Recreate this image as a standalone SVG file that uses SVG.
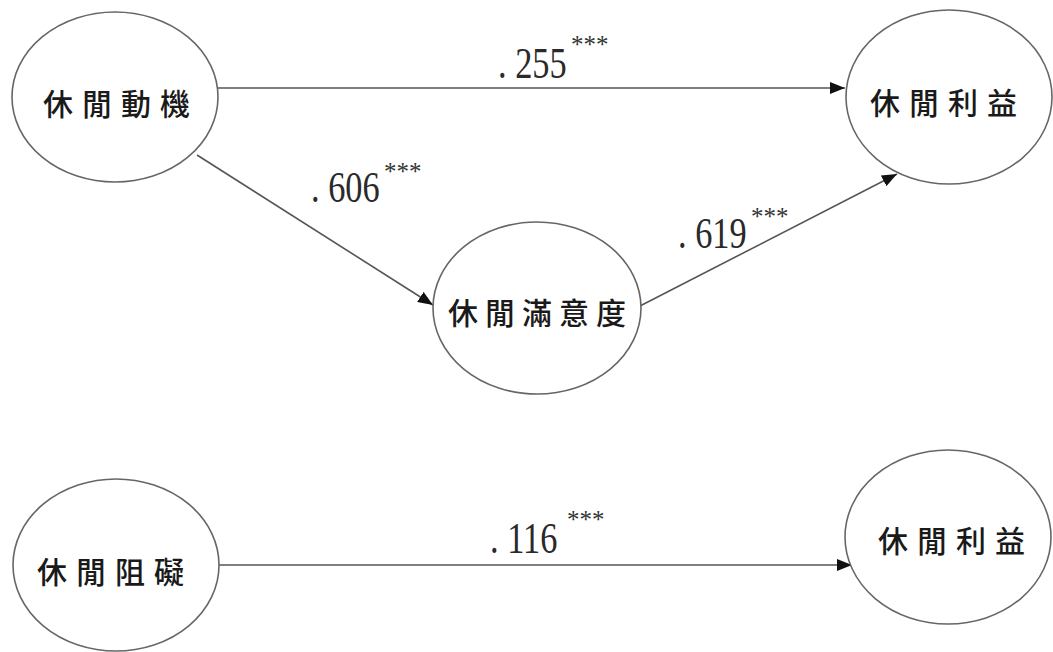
<svg xmlns="http://www.w3.org/2000/svg" width="1053" height="652" viewBox="0 0 1053 652">
<style>
.node{fill:#fff;stroke:#666;stroke-width:1.6}
.lbl{font-family:"Noto Sans CJK TC","Noto Sans CJK SC",sans-serif;font-size:30px;font-weight:500;letter-spacing:9px;fill:#1a1a1a}
.edge{stroke:#555;stroke-width:1.6;fill:none;marker-end:url(#arr)}
.num{font-family:"Liberation Serif","DejaVu Serif",serif;font-size:44px;fill:#2a2a2a}
.star{font-family:"Liberation Serif","DejaVu Serif",serif;font-size:25px;fill:#333}
</style>
<defs>
<marker id="arr" markerUnits="userSpaceOnUse" markerWidth="16" markerHeight="12" refX="15" refY="6" orient="auto">
<path d="M0,0 L15,6 L0,12 Z" fill="#111"/>
</marker>
</defs>
<rect width="1053" height="652" fill="#fff"/>
<g id="connectors">
<line class="edge" x1="218" y1="88" x2="845" y2="88"/>
<line class="edge" x1="197" y1="155" x2="433" y2="305"/>
<line class="edge" x1="640" y1="306" x2="897" y2="174"/>
<line class="edge" x1="219" y1="565" x2="852" y2="565"/>
</g>
<g id="node-motivation">
<ellipse class="node" cx="115" cy="97" rx="103" ry="85"/>
<text class="lbl" x="43" y="115">休閒動機</text>
</g>
<g id="node-benefit-top">
<ellipse class="node" cx="949" cy="97" rx="103" ry="87"/>
<text class="lbl" x="870" y="114">休閒利益</text>
</g>
<g id="node-satisfaction">
<ellipse class="node" cx="537" cy="308" rx="104" ry="86"/>
<text class="lbl" x="448" y="324" style="letter-spacing:7px">休閒滿意度</text>
</g>
<g id="node-constraint">
<ellipse class="node" cx="116" cy="565" rx="103" ry="86"/>
<text class="lbl" x="37" y="583">休閒阻礙</text>
</g>
<g id="node-benefit-bottom">
<ellipse class="node" cx="948" cy="537" rx="103" ry="87"/>
<text class="lbl" x="878" y="552">休閒利益</text>
</g>
<g id="edge-labels">
<text class="num" transform="translate(498,78) scale(0.78,1)">. 255</text>
<text class="star" x="571" y="53">***</text>
<text class="num" transform="translate(311,202) scale(0.78,1)">. 606</text>
<text class="star" x="384" y="180">***</text>
<text class="num" transform="translate(678,248) scale(0.78,1)">. 619</text>
<text class="star" x="751" y="225">***</text>
<text class="num" transform="translate(490,553) scale(0.78,1)">. 116</text>
<text class="star" x="567" y="528">***</text>
</g>
</svg>
